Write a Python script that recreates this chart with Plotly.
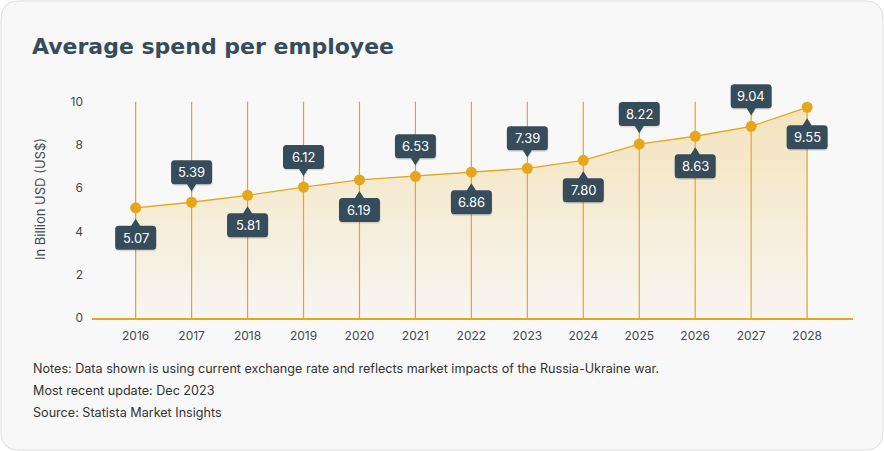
import plotly.graph_objects as go

# ---- data ----
years = [2016, 2017, 2018, 2019, 2020, 2021, 2022, 2023, 2024, 2025, 2026, 2027, 2028]
values = [5.09, 5.35, 5.67, 6.05, 6.38, 6.55, 6.74, 6.92, 7.29, 8.04, 8.40, 8.86, 9.74]
label_texts = ["5.07", "5.39", "5.81", "6.12", "6.19", "6.53", "6.86",
               "7.39", "7.80", "8.22", "8.63", "9.04", "9.55"]
y_ticks = [0, 2, 4, 6, 8, 10]
title_text = "Average spend per employee"
y_title = "In Billion USD (US$)"
notes = ["Notes: Data shown is using current exchange rate and reflects market impacts of the Russia-Ukraine war.",
         "Most recent update: Dec 2023",
         "Source: Statista Market Insights"]

# ---- layout constants ----
FW, FH = 884, 451
Y_TOP = 11.0
L, R, B = 92, 31, 133
PH = (FH - B - 101.7) * Y_TOP / 10.0
T = FH - B - PH
PW = FW - L - R
GOLD = "#e5a61b"
DARK = "#364c5a"
TXT = "#3f4a52"
FONT = "Inter"


def px_to_paper(px, py):
    return (px - L) / PW, 1 - (py - T) / PH


fig = go.Figure()

# fill
fig.add_trace(go.Scatter(
    x=years, y=values, mode="lines", line=dict(width=0, color=GOLD),
    fill="tozeroy",
    fillgradient=dict(type="vertical", start=0, stop=max(values),
                      colorscale=[[0, "rgba(232,170,30,0.03)"], [1, "rgba(232,170,30,0.27)"]]),
    hoverinfo="skip", showlegend=False))
# line + markers
fig.add_trace(go.Scatter(
    x=years, y=values, mode="lines+markers",
    line=dict(color=GOLD, width=1.3),
    marker=dict(color=GOLD, size=11),
    showlegend=False))

shapes = []
annotations = []

# rounded card background
x0, y0, x1, y1, r = 1, 1, FW - 1, FH - 1, 18


def P(px, py):
    a, b = px_to_paper(px, py)
    return f"{a:.5f},{b:.5f}"


card = (f"M {P(x0 + r, y0)} L {P(x1 - r, y0)} Q {P(x1, y0)} {P(x1, y0 + r)} "
        f"L {P(x1, y1 - r)} Q {P(x1, y1)} {P(x1 - r, y1)} L {P(x0 + r, y1)} "
        f"Q {P(x0, y1)} {P(x0, y1 - r)} L {P(x0, y0 + r)} Q {P(x0, y0)} {P(x0 + r, y0)} Z")
shapes.append(dict(type="path", xref="paper", yref="paper", path=card,
                   fillcolor="#f8f8f8", line=dict(color="#dedede", width=1), layer="below"))

# vertical guide lines from 0 to top tick
for yr in years:
    shapes.append(dict(type="line", xref="x", yref="y", x0=yr, x1=yr, y0=0, y1=max(y_ticks),
                       line=dict(color=GOLD, width=1.2), layer="below"))


def box_path(sign, dx=0.0, dy=0.0):
    # sign=+1 above point, -1 below ; pixel offsets, y up
    w, h, gap, tip, rr, tw = 20.5, 24, 18, 11, 3.5, 4.5
    ys = sign
    yb = ys * gap
    yf = ys * (gap + h)

    def pt(x, y):
        return f"{x + dx:.2f},{y + dy:.2f}"
    return (f"M {pt(0, ys * tip)} L {pt(tw, yb)} L {pt(w - rr, yb)} Q {pt(w, yb)} {pt(w, yb + ys * rr)} "
            f"L {pt(w, yf - ys * rr)} Q {pt(w, yf)} {pt(w - rr, yf)} L {pt(-w + rr, yf)} "
            f"Q {pt(-w, yf)} {pt(-w, yf - ys * rr)} L {pt(-w, yb + ys * rr)} Q {pt(-w, yb)} {pt(-w + rr, yb)} "
            f"L {pt(-tw, yb)} Z")


for i, (yr, v, t) in enumerate(zip(years, values, label_texts)):
    sign = -1 if i % 2 == 0 else 1
    shapes.append(dict(type="path", xref="x", yref="y", xsizemode="pixel", ysizemode="pixel",
                       xanchor=yr, yanchor=v, path=box_path(sign, 0.5, -1.5),
                       fillcolor="rgba(0,0,0,0.12)", line=dict(width=0), layer="above"))
    shapes.append(dict(type="path", xref="x", yref="y", xsizemode="pixel", ysizemode="pixel",
                       xanchor=yr, yanchor=v, path=box_path(sign),
                       fillcolor=DARK, line=dict(width=0), layer="above"))
    annotations.append(dict(x=yr, y=v, xref="x", yref="y", text=t, showarrow=False,
                            yshift=sign * 30, font=dict(family=FONT, size=13, color="#ffffff")))

# title
annotations.append(dict(text=f"<b>{title_text}</b>", xref="paper", yref="paper",
                        x=px_to_paper(30, 0)[0], y=px_to_paper(0, 47)[1],
                        xanchor="left", yanchor="middle", showarrow=False,
                        font=dict(family="DejaVu Sans", size=22, color=DARK)))
# notes
for k, n in enumerate(notes):
    annotations.append(dict(text=n, xref="paper", yref="paper",
                            x=px_to_paper(31, 0)[0], y=px_to_paper(0, 368 + 22 * k)[1],
                            xanchor="left", yanchor="middle", showarrow=False,
                            font=dict(family=FONT, size=12.6, color="#333333")))

fig.update_layout(
    width=FW, height=FH,
    margin=dict(l=L, r=R, t=T, b=B, pad=0),
    paper_bgcolor="#ffffff", plot_bgcolor="rgba(0,0,0,0)",
    shapes=shapes, annotations=annotations,
    showlegend=False,
    xaxis=dict(range=[2015.22, 2028.82], tickmode="array", tickvals=years,
               ticktext=[str(y) for y in years], showgrid=False,
               zeroline=False, showline=True, linecolor=GOLD, linewidth=1.5,
               ticks="", tickfont=dict(family=FONT, size=12, color=TXT), ticklabelstandoff=6),
    yaxis=dict(range=[0, Y_TOP], tickmode="array", tickvals=y_ticks, showgrid=False,
               zeroline=False, showline=False, ticks="", ticklabelstandoff=8,
               tickfont=dict(family=FONT, size=12, color=TXT),
               title=dict(text=y_title, font=dict(family=FONT, size=13, color=TXT), standoff=21)),
)

fig.write_html("out.html")
